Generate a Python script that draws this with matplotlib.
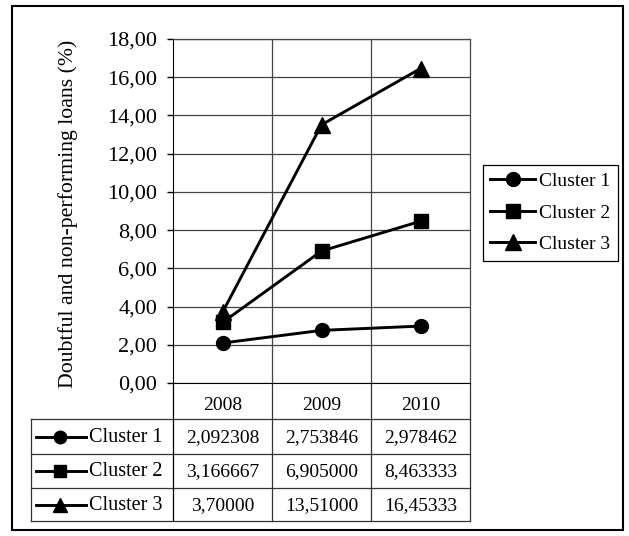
import matplotlib
matplotlib.use('Agg')
import matplotlib.pyplot as plt
from matplotlib.ticker import FuncFormatter

# Data
years = ['2008', '2009', '2010']
series_names = ['Cluster 1', 'Cluster 2', 'Cluster 3']
cluster1 = [2.092308, 2.753846, 2.978462]
cluster2 = [3.166667, 6.905000, 8.463333]
cluster3 = [3.70000, 13.51000, 16.45333]
table_decimals = [6, 6, 5]
markers = ['o', 's', '^']
marker_sizes = [10, 10, 11]
y_ticks = [0, 2, 4, 6, 8, 10, 12, 14, 16, 18]

plt.rcParams['font.family'] = ['Liberation Serif', 'DejaVu Serif']
plt.rcParams['font.size'] = 14

W, H = 629, 536
fig = plt.figure(figsize=(W / 100, H / 100), dpi=100)

# plot area in pixels
L, R, T, B = 173, 470, 39, 383
ax = fig.add_axes([L / W, 1 - B / H, (R - L) / W, (B - T) / H])

series = [cluster1, cluster2, cluster3]
x = list(range(len(years)))
handles = []
for vals, name, m, ms in zip(series, series_names, markers, marker_sizes):
    h, = ax.plot(x, vals, color='black', lw=2.1, marker=m, ms=ms, label=name,
                 clip_on=False, zorder=3)
    handles.append(h)

ax.set_xlim(-0.5, len(years) - 0.5)
ax.set_ylim(0, 18)
ax.set_yticks(y_ticks)
ax.yaxis.set_major_formatter(FuncFormatter(lambda v, p: f'{v:.2f}'.replace('.', ',')))
ax.set_xticks(x, years)
ax.set_xticks([i + 0.5 for i in x[:-1]], minor=True)
ax.tick_params(axis='x', which='both', length=0, pad=10)
ax.tick_params(axis='y', length=4.5, width=1, direction='out', pad=7, labelsize=16)
ax.grid(axis='y', color='#444444', lw=0.9)
ax.grid(axis='x', which='minor', color='#444444', lw=0.9)
for s in ['top', 'right']:
    ax.spines[s].set_color('#444444')
    ax.spines[s].set_linewidth(0.9)
ax.spines['left'].set_color('black')
ax.spines['bottom'].set_color('black')
ax.set_axisbelow(True)

# overlay in pixel coordinates for frame, title text and table
ov = fig.add_axes([0, 0, 1, 1], zorder=-1)
ov.set_xlim(0, W)
ov.set_ylim(H, 0)
ov.axis('off')

ov.add_patch(plt.Rectangle((12, 6), 611, 524, fill=False, ec='black', lw=1.5))
ov.text(68, 214, 'Doubtful and non-performing loans (%)', rotation=90,
        ha='center', va='center', fontsize=15.7)

# data table below the plot
col_w = (R - L) / len(years)
col_edges = [L + i * col_w for i in range(len(years) + 1)]
row_edges = [419, 454, 488, 521]
tl = 31
gc = '#333333'
for ye in row_edges:
    ov.plot([tl, R], [ye, ye], color=gc, lw=0.9)
ov.plot([tl, tl], [row_edges[0], row_edges[-1]], color=gc, lw=0.9)
for xe in col_edges:
    ov.plot([xe, xe], [B, row_edges[-1]], color=gc if xe != L else 'black', lw=0.9)

for i, (vals, name, m, ms, d) in enumerate(zip(series, series_names, markers,
                                               marker_sizes, table_decimals)):
    yc = (row_edges[i] + row_edges[i + 1]) / 2
    ov.plot([36, 86], [yc, yc], color='black', lw=2.1)
    ov.plot([60], [yc], color='black', marker=m, ms=ms - 1)
    ov.text(89, yc + 1, name, ha='left', va='center', fontsize=14.5)
    for j, v in enumerate(vals):
        xc = (col_edges[j] + col_edges[j + 1]) / 2
        ov.text(xc, yc + 1, f'{v:.{d}f}'.replace('.', ','), ha='center', va='center')

leg = fig.legend(handles=handles, loc='upper left',
                 bbox_to_anchor=(483 / W, 1 - 165 / H), borderaxespad=0,
                 fancybox=False, edgecolor='black', framealpha=1,
                 handlelength=2.3, handletextpad=0.2, labelspacing=0.72,
                 borderpad=0.38)
leg.get_frame().set_linewidth(0.9)

fig.savefig('out.png', dpi=100)
